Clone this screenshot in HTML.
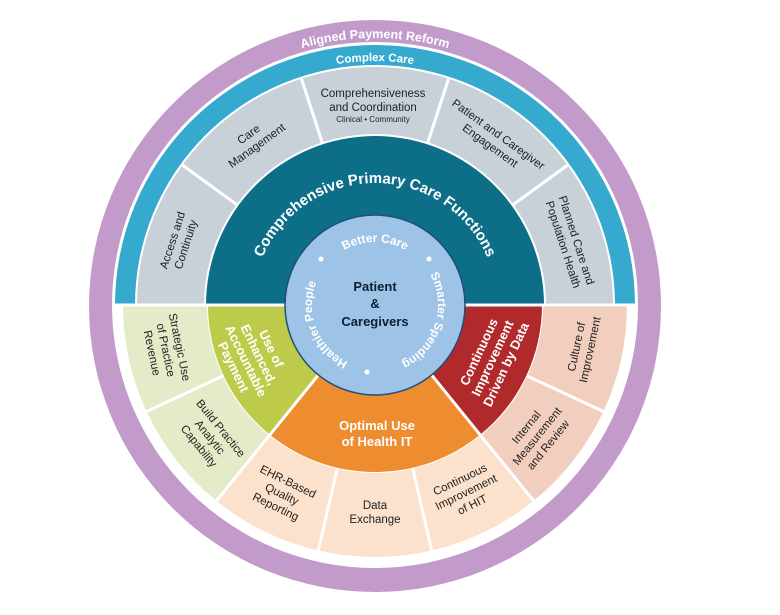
<!DOCTYPE html>
<html><head><meta charset="utf-8"><style>
html,body{margin:0;padding:0;background:#fff;}
svg{display:block;font-family:"Liberation Sans",sans-serif;}
.seg{font-size:11.5px;fill:#222;}
.w{fill:#fff;font-weight:bold;}
</style></head><body>
<svg width="780" height="615" viewBox="0 0 780 615">
<defs>
<path id="pA" d="M108,305 A267 267 0 0 1 642,305"/>
<path id="pC" d="M131,305 A244 244 0 0 1 619,305"/>
<path id="pT" d="M253,305 A122 122 0 0 1 497,305"/>
<path id="pI" d="M375,368 A63 63 0 1 1 375,242 A63 63 0 1 1 375,368"/>
</defs>
<circle cx="375" cy="306" r="286" fill="#C39BCA"/>
<circle cx="375" cy="305" r="263" fill="#fff"/>
<!-- top -->
<path d="M115,305 A260 260 0 0 1 635,305 Z" fill="#36A9CF"/>
<path d="M135,305 A240 240 0 0 1 615,305 Z" fill="#fff"/>
<path d="M137,305 A238 238 0 0 1 613,305 Z" fill="#C8D0D8"/>
<g stroke="#fff" stroke-width="3">
<line x1="375" y1="305" x2="181.6" y2="164.5"/>
<line x1="375" y1="305" x2="301.1" y2="77.7"/>
<line x1="375" y1="305" x2="448.9" y2="77.7"/>
<line x1="375" y1="305" x2="568.4" y2="164.5"/>
</g>
<circle cx="375" cy="305" r="171" fill="#fff"/>
<path d="M206,305 A169 169 0 0 1 544,305 Z" fill="#0D6E87"/>
<!-- bottom outer -->
<path d="M375,305 L627,305 A252 252 0 0 1 533.6,500.8 Z" fill="#F2CEBF"/>
<path d="M375,305 L533.6,500.8 A252 252 0 0 1 216.4,500.8 Z" fill="#FCE2CD"/>
<path d="M375,305 L216.4,500.8 A252 252 0 0 1 123,305 Z" fill="#E3EBC8"/>
<g stroke="#fff" stroke-width="3">
<line x1="375" y1="305" x2="603.4" y2="411.5"/>
<line x1="375" y1="305" x2="533.6" y2="500.8"/>
<line x1="375" y1="305" x2="431.7" y2="550.5"/>
<line x1="375" y1="305" x2="318.3" y2="550.5"/>
<line x1="375" y1="305" x2="216.4" y2="500.8"/>
<line x1="375" y1="305" x2="146.6" y2="411.5"/>
</g>
<path d="M375,305 L543,305 A168 168 0 0 1 375,473 A168 168 0 0 1 207,305 Z" fill="#fff"/>
<path d="M375,305 L542,305 A167 167 0 0 1 480.1,434.8 Z" fill="#B0292B"/>
<path d="M375,305 L480.1,434.8 A167 167 0 0 1 269.9,434.8 Z" fill="#EE8D2F"/>
<path d="M375,305 L269.9,434.8 A167 167 0 0 1 208,305 Z" fill="#BECA4A"/>
<g stroke="#fff" stroke-width="3">
<line x1="375" y1="305" x2="480.1" y2="434.8"/>
<line x1="375" y1="305" x2="269.9" y2="434.8"/>
<line x1="115" y1="305" x2="635" y2="305"/>
</g>
<circle cx="375" cy="305" r="90" fill="#9DC3E7" stroke="#1F4E79" stroke-width="1.5"/>

<!-- curved texts -->
<text class="w" font-size="12.5"><textPath href="#pA" startOffset="50%" text-anchor="middle">Aligned Payment Reform</textPath></text>
<text class="w" font-size="11.5"><textPath href="#pC" startOffset="50%" text-anchor="middle">Complex Care</textPath></text>
<text class="w" font-size="15"><textPath href="#pT" startOffset="50%" text-anchor="middle">Comprehensive  Primary Care Functions</textPath></text>
<text class="w" font-size="12"><textPath href="#pI" startOffset="50%" text-anchor="middle">Better Care</textPath></text>
<text class="w" font-size="12"><textPath href="#pI" startOffset="80%" text-anchor="middle">Smarter Spending</textPath></text>
<text class="w" font-size="12"><textPath href="#pI" startOffset="19%" text-anchor="middle">Healthier People</textPath></text>
<g fill="#fff"><circle cx="321" cy="259" r="2.5"/><circle cx="429" cy="259" r="2.5"/><circle cx="367" cy="372" r="2.5"/></g>
<text x="375" y="291" text-anchor="middle" font-size="13" font-weight="bold" fill="#0E1F33">Patient</text>
<text x="375" y="308" text-anchor="middle" font-size="13" font-weight="bold" fill="#0E1F33">&amp;</text>
<text x="375" y="326" text-anchor="middle" font-size="13" font-weight="bold" fill="#0E1F33">Caregivers</text>

<!-- gray segment texts -->
<text class="seg" text-anchor="middle" transform="translate(178,242) rotate(-72)"><tspan x="0" dy="-2">Access and</tspan><tspan x="0" dy="14">Continuity</tspan></text>
<text class="seg" text-anchor="middle" transform="translate(252,139) rotate(-36)"><tspan x="0" dy="-2">Care</tspan><tspan x="0" dy="14">Management</tspan></text>
<text class="seg" text-anchor="middle" transform="translate(373,97)"><tspan x="0" dy="0">Comprehensiveness</tspan><tspan x="0" dy="14">and Coordination</tspan><tspan x="0" dy="11" font-size="8">Clinical • Community</tspan></text>
<text class="seg" text-anchor="middle" transform="translate(495,139) rotate(36)"><tspan x="0" dy="-2">Patient and Caregiver</tspan><tspan x="0" dy="14">Engagement</tspan></text>
<text class="seg" text-anchor="middle" transform="translate(571,242) rotate(72)"><tspan x="0" dy="-2">Planned Care and</tspan><tspan x="0" dy="14">Population Health</tspan></text>

<!-- bottom outer texts -->
<text class="seg" text-anchor="middle" transform="translate(166,350) rotate(78)"><tspan x="0" dy="-10">Strategic Use</tspan><tspan x="0" dy="14">of Practice</tspan><tspan x="0" dy="14">Revenue</tspan></text>
<text class="seg" text-anchor="middle" transform="translate(210,437) rotate(51)"><tspan x="0" dy="-10">Build Practice</tspan><tspan x="0" dy="14">Analytic</tspan><tspan x="0" dy="14">Capability</tspan></text>
<text class="seg" text-anchor="middle" transform="translate(282,494) rotate(26)"><tspan x="0" dy="-10">EHR-Based</tspan><tspan x="0" dy="14">Quality</tspan><tspan x="0" dy="14">Reporting</tspan></text>
<text class="seg" text-anchor="middle" transform="translate(375,513)"><tspan x="0" dy="-4">Data</tspan><tspan x="0" dy="14">Exchange</tspan></text>
<text class="seg" text-anchor="middle" transform="translate(466,492) rotate(-26)"><tspan x="0" dy="-10">Continuous</tspan><tspan x="0" dy="14">Improvement</tspan><tspan x="0" dy="14">of HIT</tspan></text>
<text class="seg" text-anchor="middle" transform="translate(537,436) rotate(-51)"><tspan x="0" dy="-10">Internal</tspan><tspan x="0" dy="14">Measurement</tspan><tspan x="0" dy="14">and Review</tspan></text>
<text class="seg" text-anchor="middle" transform="translate(582,348) rotate(-78)"><tspan x="0" dy="-2">Culture of</tspan><tspan x="0" dy="14">Improvement</tspan></text>

<!-- inner colored texts -->
<text class="w" font-size="13" text-anchor="middle" transform="translate(252,358) rotate(64)"><tspan x="0" dy="-17">Use of</tspan><tspan x="0" dy="14">Enhanced,</tspan><tspan x="0" dy="14">Accountable</tspan><tspan x="0" dy="14">Payment</tspan></text>
<text class="w" font-size="13" text-anchor="middle" transform="translate(377,433)"><tspan x="0" dy="-3">Optimal Use</tspan><tspan x="0" dy="16">of Health IT</tspan></text>
<text class="w" font-size="13" text-anchor="middle" transform="translate(492,358) rotate(-65)"><tspan x="0" dy="-10">Continuous</tspan><tspan x="0" dy="15">Improvement</tspan><tspan x="0" dy="15">Driven by Data</tspan></text>
</svg>
</body></html>
